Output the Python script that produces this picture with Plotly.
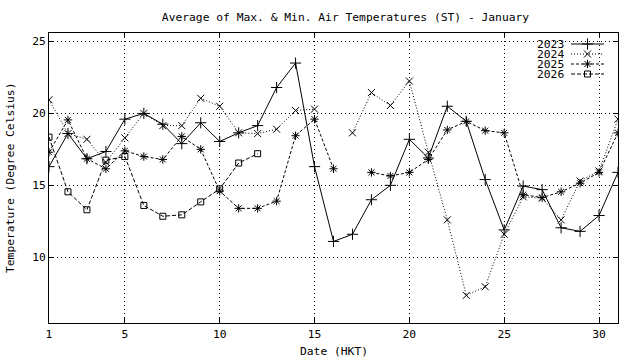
import plotly.graph_objects as go

days = list(range(1, 32))
t2023 = [16.3, 18.6, 16.85, 17.35, 19.6, 20.0, 19.25, 17.9, 19.35, 18.05, 18.65, 19.15, 21.8, 23.5, 16.3,
         11.1, 11.6, 14.0, 15.0, 18.2, 16.9, 20.5, 19.45, 15.4, 11.9, 14.95, 14.7, 12.05, 11.8, 12.9, 15.9]
t2024 = [20.95, 18.6, 18.2, 16.6, 18.3, 20.0, 19.15, 19.15, 21.05, 20.5, 18.65, 18.6, 18.9, 20.2, 20.3,
         None, 18.65, 21.45, 20.55, 22.25, 17.3, 12.6, 7.35, 7.95, 11.6, 14.2, 14.1, 12.6, 15.3, 16.0, 19.6]
t2025 = [17.3, 19.55, 16.85, 16.15, 17.4, 17.0, 16.8, 18.4, 17.5, 14.6, 13.4, 13.4, 13.9, 18.45, 19.6,
         16.15, None, 15.9, 15.65, 15.9, 16.8, 18.85, 19.45, 18.8, 18.65, 14.35, 14.15, 14.55, 15.15, 15.9, 18.65]
t2026 = [18.35, 14.55, 13.3, 16.75, 17.0, 13.6, 12.85, 12.95, 13.85, 14.75, 16.55, 17.2] + [None] * 19

series_names = ["2023", "2024", "2025", "2026"]
x_ticks = [1, 5, 10, 15, 20, 25, 30]
y_ticks = [10, 15, 20, 25]

FONT = "DejaVu Sans Mono"
FS = 11.3

styles = {
    "2023": dict(dash="solid", symbol="cross-thin", size=8),
    "2024": dict(dash="1px,2px", symbol="x-thin", size=7),
    "2025": dict(dash="3px,2px", symbol="asterisk", size=7),
    "2026": dict(dash="4px,2px", symbol="square-open", size=6),
}
values = {"2023": t2023, "2024": t2024, "2025": t2025, "2026": t2026}

fig = go.Figure()
for name in series_names:
    st = styles[name]
    fig.add_trace(go.Scatter(
        x=days, y=values[name], mode="lines+markers", name=name,
        connectgaps=False, showlegend=False,
        line=dict(color="black", width=1, dash=st["dash"]),
        marker=dict(symbol=st["symbol"], size=st["size"], color="black",
                    line=dict(color="black", width=1)),
    ))

# custom gnuplot-style key (text left, sample right) on a pixel overlay axis
L, R, T, B = 49, 618, 33, 323
key_rows = [44, 54, 64, 74]
for name, yy in zip(series_names, key_rows):
    st = styles[name]
    fig.add_trace(go.Scatter(
        x=[571, 587.5, 604], y=[yy, yy, yy], xaxis="x2", yaxis="y2",
        mode="lines", showlegend=False, hoverinfo="skip",
        line=dict(color="black", width=1, dash=st["dash"]),
    ))
    fig.add_trace(go.Scatter(
        x=[587.5], y=[yy], xaxis="x2", yaxis="y2",
        mode="markers", showlegend=False, hoverinfo="skip",
        marker=dict(symbol=st["symbol"], size=st["size"], color="black",
                    line=dict(color="black", width=1)),
    ))
    fig.add_annotation(x=566, y=yy, xref="x2", yref="y2", text=name,
                       showarrow=False, xanchor="right", yanchor="middle",
                       font=dict(family=FONT, size=FS, color="black"))

fig.add_shape(type="rect", xref="x2", yref="y2", x0=537, x1=613, y0=36, y1=82,
              fillcolor="white", line=dict(width=0), layer="below")

fig.update_layout(
    width=640, height=360,
    margin=dict(l=L, r=640 - R, t=T, b=360 - B),
    paper_bgcolor="white", plot_bgcolor="white",
    font=dict(family=FONT, size=FS, color="black"),
    title=dict(text="Average of Max. & Min. Air Temperatures (ST) - January",
               x=(L + R) / 2 / 640, xanchor="center", xref="paper",
               y=1 - 17 / 360, yanchor="middle", yref="container",
               font=dict(family=FONT, size=FS, color="black")),
    xaxis=dict(range=[1, 31], tickvals=x_ticks, ticktext=[str(v) for v in x_ticks],
               showgrid=True, gridcolor="black", griddash="1px,3px", gridwidth=1,
               showline=True, linecolor="black", linewidth=1, mirror="ticks",
               ticks="inside", ticklen=5, tickcolor="black", zeroline=False,
               tickfont=dict(family=FONT, size=FS)),
    yaxis=dict(range=[5.43, 25.59], tickvals=y_ticks, ticktext=[str(v) for v in y_ticks],
               showgrid=True, gridcolor="black", griddash="1px,3px", gridwidth=1,
               showline=True, linecolor="black", linewidth=1, mirror="ticks",
               ticks="inside", ticklen=5, tickcolor="black", zeroline=False,
               tickfont=dict(family=FONT, size=FS)),
    xaxis2=dict(range=[L, R], overlaying="x", anchor="y2", visible=False, fixedrange=True),
    yaxis2=dict(range=[B, T], overlaying="y", anchor="x2", visible=False, fixedrange=True),
    showlegend=False,
)

fig.add_annotation(text="Date (HKT)", xref="paper", yref="paper", x=0.5,
                   y=-(351 - B) / (B - T), showarrow=False, yanchor="middle",
                   font=dict(family=FONT, size=FS, color="black"))
fig.add_annotation(text="Temperature (Degree Celsius)", xref="paper", yref="paper",
                   x=(10 - L) / (R - L), y=0.5, textangle=-90, showarrow=False,
                   xanchor="center", yanchor="middle",
                   font=dict(family=FONT, size=FS, color="black"))

fig.write_html("out.html", config={"displayModeBar": False},
               post_script="document.body.style.margin='0';document.body.style.overflow='hidden';")
